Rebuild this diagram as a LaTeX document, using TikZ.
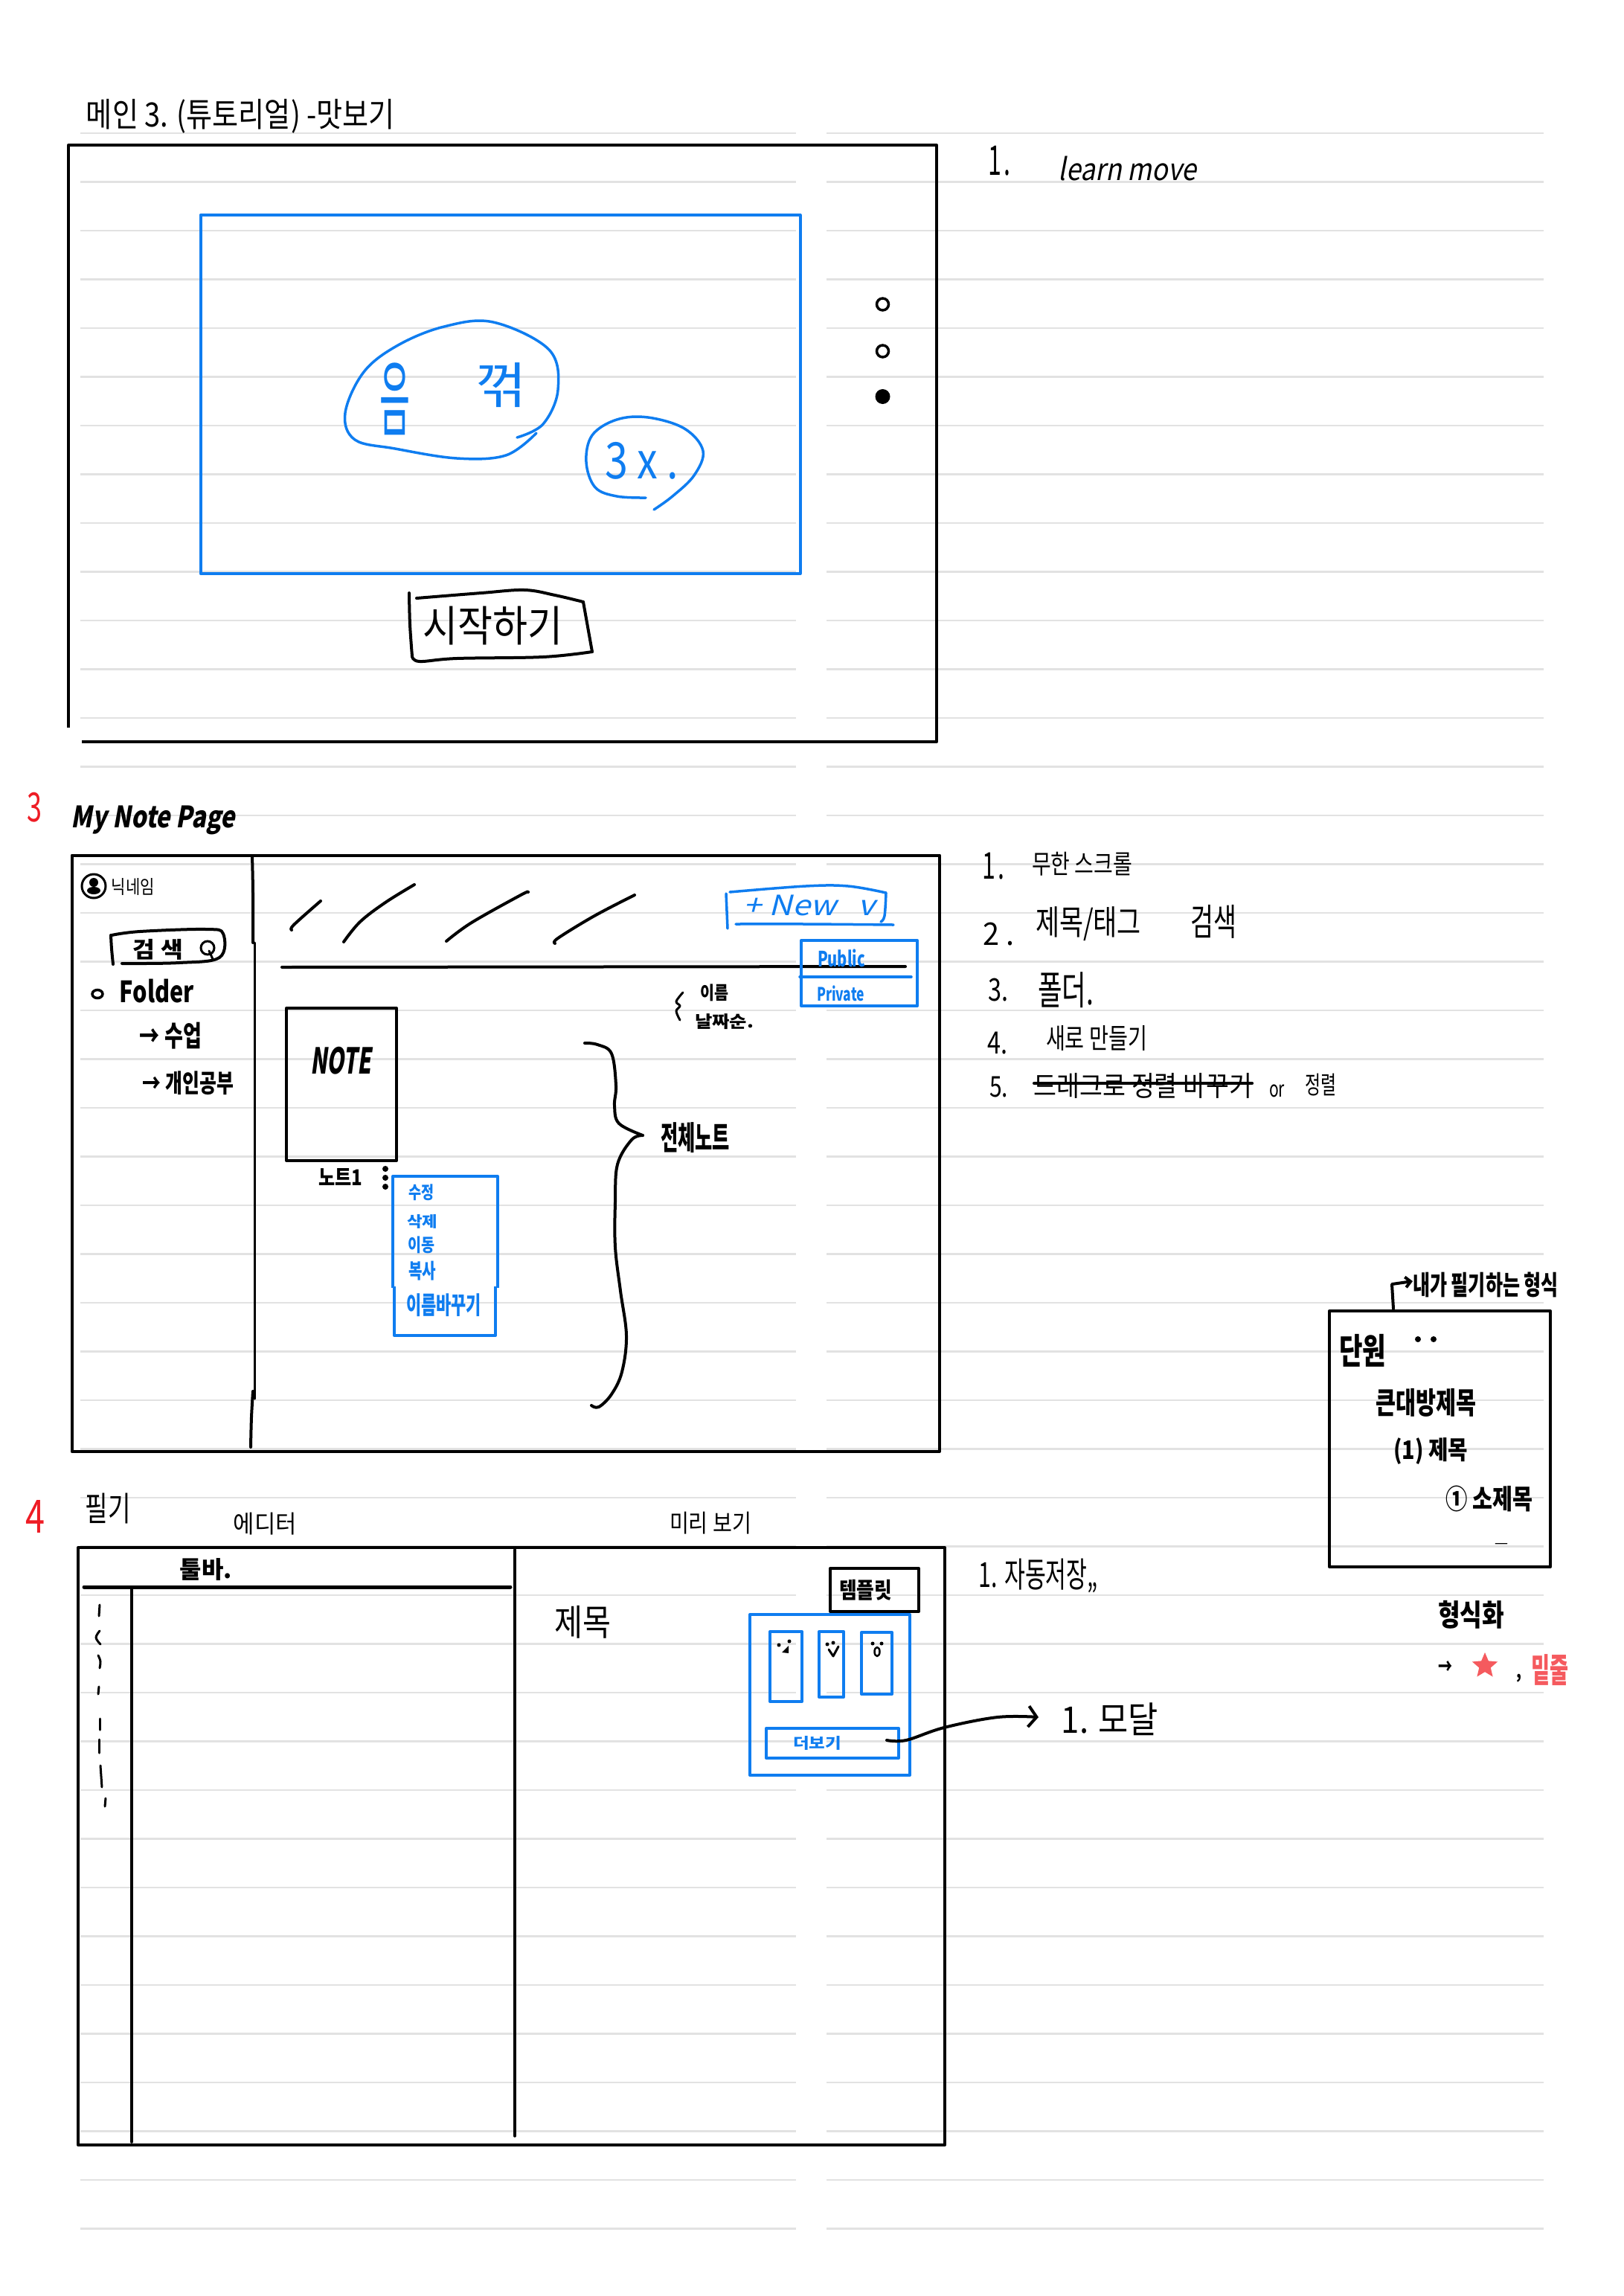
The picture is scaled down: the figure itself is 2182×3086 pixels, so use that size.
\documentclass[tikz,border=0pt]{standalone}
\usepackage{graphicx}
\usepackage{fontspec}
\setmainfont{Noto Sans CJK KR}
\newfontfamily\slantf[FakeSlant=0.22]{Noto Sans CJK KR}
\usetikzlibrary{arrows.meta,shapes.geometric}
\definecolor{bluepen}{HTML}{0F7DF0}
\definecolor{redpen}{HTML}{EE1C25}
\definecolor{pinkpen}{HTML}{F55A5E}
\definecolor{rulegray}{HTML}{E2E2E2}
\tikzset{
  txt/.style={inner sep=0pt,outer sep=0pt,anchor=center},
  rulel/.style={draw=rulegray,line width=2.4pt},
  frm/.style={draw=black,line width=4pt,line join=round},
  frmb/.style={draw=bluepen,line width=4pt,line join=round},
  pen/.style={draw=black,line width=4pt,line cap=round,line join=round},
  penb/.style={draw=bluepen,line width=3.5pt,line cap=round,line join=round},
  thinpen/.style={draw=black,line width=3pt,line cap=round,line join=round},
  smoothp/.style={smooth,tension=0.6}
}
% colour, name, left, right, top, bottom, text: the text is fitted to that box
\newcommand\tx[7][black]{%
  \pgfmathsetmacro\tcx{(#3+#4)/2}%
  \pgfmathsetmacro\tcy{(#5+#6)/2}%
  \pgfmathsetmacro\tw{#4-#3}%
  \pgfmathsetmacro\th{#6-#5}%
  \node[txt,text=#1] (#2) at (\tcx,\tcy) {\resizebox*{\tw pt}{\th pt}{#7}};%
}
\begin{document}
\begin{tikzpicture}[x=1pt,y=-1pt]
\useasboundingbox[fill=white] (0,0) rectangle (2182,3086);
% ruled paper
\foreach \k in {0,...,43}{
  \pgfmathsetmacro\yy{179+65.5*\k}
  \draw[rulel] (108,\yy) -- (1070,\yy);
  \draw[rulel] (1111,\yy) -- (2075,\yy);
}
%%% Section 1
\tx{title}{116}{531}{133}{179}{메인 3. (튜토리얼) -맛보기}
\draw[frm] (92,978) -- (92,195) -- (1259,195) -- (1259,997) -- (110,997);
\node[frmb,draw,minimum width=806pt,minimum height=482pt,inner sep=0pt,outer sep=0pt] (hero) at (672.5,530) {};
\draw[penb] plot[smoothp] coordinates {(695,588)(730,570)(750,524)(738,470)(663,433)(597,439)(535,464)(489,500)(464,555)(477,591)(531,603)(614,616)(680,612)(721,582)};
\tx[bluepen]{um}{510}{551}{488}{585}{음}
\tx[bluepen]{kk}{640}{709}{488}{548}{꺾}
\draw[penb] plot[smoothp] coordinates {(868,669)(829,667)(800,655)(788,621)(796,585)(829,564)(871,561)(920,576)(945,606)(933,639)(904,667)(879,685)};
\tx[bluepen]{tx3}{813}{912}{594}{644}{3 x .}
\node[circle,draw=black,line width=3.5pt,minimum size=16pt,inner sep=0pt] (d1) at (1186.5,409) {};
\node[circle,draw=black,line width=3.5pt,minimum size=16pt,inner sep=0pt] (d2) at (1186.5,472) {};
\node[circle,fill=black,minimum size=20pt,inner sep=0pt] (d3) at (1186.5,533) {};
\draw[pen] plot[smoothp] coordinates {(550,797)(551,839)(554,882)};
\draw[pen] plot[smoothp] coordinates {(554,882)(564,889)(614,885)(730,883)(796,876)};
\draw[pen] plot[smoothp] coordinates {(796,876)(784,809)};
\draw[pen] plot[smoothp] coordinates {(784,809)(746,800)(705,793)(647,797)(560,804)};
\tx{start}{568}{756}{815}{867}{시작하기}
\tx{r1n}{1328}{1358}{196}{236}{1\hspace{.1em}.}
\tx{r1t}{1423}{1608}{210}{243}{\slantf learn move}
%%% Section 2
\tx[redpen]{sec3}{37}{57}{1065}{1105}{3}
\tx{mynote}{96}{316}{1083}{1122}{\slantf\bfseries My Note Page}
\node[frm,draw,minimum width=1166.5pt,minimum height=801.5pt,inner sep=0pt,outer sep=0pt] (page) at (679.75,1550.25) {};
\draw[pen] plot[smoothp] coordinates {(339,1150)(340,1200)(340,1267)};
\draw[thinpen] (342,1267) -- (342,1880);
\draw[pen] plot[smoothp] coordinates {(340,1870)(338,1905)(337,1945)};
\node[circle,draw=black,line width=3pt,minimum size=32pt,inner sep=0pt] (avatar) at (126,1191) {};
\fill (126,1186) circle (6pt);
\fill (126,1197) ellipse (9pt and 5pt);
\tx{nick}{150}{208}{1180}{1203}{닉네임}
\draw[pen] plot[smoothp] coordinates {(149,1257)(150,1275)(152,1296)};
\draw[pen] plot[smoothp] coordinates {(150,1257)(188,1252)(277,1249)(300,1255)(295,1287)(241,1294)(164,1295)};
\tx{search}{179}{246}{1262}{1290}{\bfseries 검 색}
\node[circle,draw=black,line width=3pt,minimum size=18pt,inner sep=0pt] (lens) at (279,1274) {};
\draw[thinpen] (281,1278) -- (286,1289);
\node[ellipse,draw=black,line width=3.5pt,minimum width=14pt,minimum height=11pt,inner sep=0pt] (bul) at (131,1336) {};
\tx{folder}{161}{261}{1316}{1348}{\bfseries Folder}
\tx{f1}{188}{271}{1374}{1410}{\bfseries → 수업}
\tx{f2}{192}{314}{1440}{1472}{\bfseries → 개인공부}
\draw[pen] plot[smoothp] coordinates {(392,1250)(395,1243)(431,1211)};
\draw[pen] plot[smoothp] coordinates {(462,1266)(484,1239)(518,1213)(557,1189)};
\draw[pen] plot[smoothp] coordinates {(600,1265)(634,1240)(700,1203)(710,1199)};
\draw[pen] plot[smoothp] coordinates {(746,1268)(750,1261)(799,1231)(853,1203)};
\coordinate (hl) at (379,1300);
\coordinate (hr) at (1217,1299);
\draw[pen] (hl) -- (hr);
\node[frm,draw,minimum width=148pt,minimum height=205pt,inner sep=0pt,outer sep=0pt] (note) at (459,1457.5) {};
\tx{notet}{417}{499}{1407}{1444}{\slantf\bfseries NOTE}
\tx{note1}{428}{487}{1570}{1593}{\bfseries 노트1}
\fill (518,1571) circle (4pt) (518,1583) circle (4pt) (518,1595) circle (4pt);
\draw[frmb] (528,1731) -- (528,1581) -- (669,1581) -- (669,1731);
\draw[frmb] (530,1729) -- (530,1795) -- (666,1795) -- (666,1729);
\tx[bluepen]{m1}{549}{583}{1592}{1614}{\bfseries 수정}
\tx[bluepen]{m2}{547}{588}{1632}{1651}{\bfseries 삭제}
\tx[bluepen]{m3}{548}{584}{1662}{1685}{\bfseries 이동}
\tx[bluepen]{m4}{549}{586}{1695}{1721}{\bfseries 복사}
\tx[bluepen]{m5}{546}{647}{1739}{1770}{\bfseries 이름바꾸기}
\draw[penb] (976,1201) -- (978,1248);
\draw[penb] plot[smoothp] coordinates {(981,1199)(1083,1191)(1140,1191)(1191,1200)};
\draw[penb] plot[smoothp] coordinates {(1191,1200)(1189,1231)(1184,1239)};
\draw[penb] plot[smoothp] coordinates {(989,1242)(1083,1242)(1201,1243)};
\tx[bluepen]{new}{1000}{1176}{1203}{1231}{\slantf + New \ \ v}
\node[frmb,draw,minimum width=156pt,minimum height=88pt,inner sep=0pt,outer sep=0pt] (vis) at (1155,1308) {};
\draw[penb] (1075,1313) -- (1225,1313);
\tx[bluepen]{pub}{1099}{1163}{1276}{1300}{\bfseries Public}
\tx[bluepen]{priv}{1098}{1162}{1325}{1346}{\bfseries Private}
\draw[thinpen] plot[smoothp] coordinates {(918,1334)(909,1346)(914,1352)(909,1359)(914,1371)};
\tx{sn}{941}{979}{1323}{1346}{\bfseries 이름}
\tx{sd}{934}{1013}{1363}{1384}{\bfseries 날짜순.}
\draw[pen] plot[smoothp] coordinates {(786,1402)(803,1404)(822,1416)(828,1459)(826,1486)(832,1510)(864,1526)};
\draw[pen] plot[smoothp] coordinates {(864,1526)(849,1532)(830,1565)(827,1616)(827,1676)(834,1735)(842,1795)(836,1844)(822,1874)(805,1891)(795,1889)};
\tx{allnote}{888}{981}{1509}{1550}{\bfseries 전체노트}
%%% right list
\tx{a1}{1320}{1350}{1146}{1182}{1\hspace{.1em}.}
\tx{a1t}{1387}{1522}{1145}{1177}{무한 스크롤}
\tx{a2}{1321}{1364}{1240}{1271}{2\hspace{.25em}.}
\tx{a2t}{1392}{1534}{1219}{1265}{제목/태그}
\tx{a2u}{1600}{1662}{1216}{1261}{검색}
\tx{a3}{1328}{1355}{1315}{1346}{3.}
\tx{a3t}{1395}{1470}{1307}{1355}{폴더.}
\tx{a4}{1327}{1354}{1387}{1417}{4.}
\tx{a4t}{1406}{1542}{1378}{1412}{새로 만들기}
\tx{a5}{1330}{1355}{1447}{1475}{5.}
\tx{a5t}{1390}{1683}{1442}{1476}{드래그로 정렬 바꾸기}
\draw[pen] (a5t.west |- 0,1456) -- (a5t.east |- 0,1456);
\tx{a5o}{1706}{1727}{1458}{1475}{or}
\tx{a5u}{1754}{1796}{1443}{1473}{정렬}
%%% format box
\node[frm,draw,minimum width=297pt,minimum height=344pt,inner sep=0pt,outer sep=0pt] (fmt) at (1935.5,1934) {};
\tx{fmtl}{1899}{2095}{1710}{1744}{\bfseries 내가 필기하는 형식}
\coordinate (fa) at (1873,1759);
\draw[pen,-{Straight Barb[length=7pt,width=14pt]}] (fa) -- (1871,1726) -- (fmtl.west |- 0,1722);
\tx{f1a}{1800}{1863}{1793}{1837}{\bfseries 단원}
\fill (1906,1800) circle (4pt) (1927,1800) circle (4pt);
\tx{f2a}{1849}{1984}{1866}{1904}{\bfseries 큰대방제목}
\tx{f3a}{1873}{1973}{1933}{1969}{\bfseries (1) 제목}
\tx{f4a}{1943}{2060}{1997}{2032}{\bfseries ① 소제목}
\tx{f5a}{2008}{2028}{2074}{2078}{\bfseries –}
\tx{f6a}{1933}{2022}{2151}{2189}{\bfseries 형식화}
\tx{f7a}{1933}{1952}{2232}{2250}{\bfseries →}
\node[star,star points=5,star point ratio=2.2,fill=pinkpen,minimum size=36pt,inner sep=0pt] (star) at (1996,2239) {};
\tx{f8a}{2038}{2045}{2250}{2261}{\bfseries ,}
\tx[pinkpen]{f9a}{2058}{2108}{2224}{2266}{\bfseries 밑줄}
%%% Section 3
\tx[redpen]{sec4}{35}{61}{2016}{2060}{4}
\tx{write}{115}{176}{2007}{2048}{필기}
\tx{editor}{314}{399}{2033}{2063}{에디터}
\tx{preview}{900}{1010}{2032}{2062}{미리 보기}
\node[frm,draw,minimum width=1165pt,minimum height=803pt,inner sep=0pt,outer sep=0pt] (edit) at (687.5,2481.5) {};
\coordinate (d1t) at (692,2083);
\coordinate (d1b) at (692,2871);
\draw[thinpen,line width=3.5pt] (d1t) -- (d1b);
\coordinate (tl) at (113,2133);
\coordinate (tr) at (686,2133);
\draw[pen,line width=5pt] (tl) -- (tr);
\coordinate (vt) at (177,2135);
\coordinate (vb) at (177,2879);
\draw[thinpen,line width=3.5pt] (vt) -- (vb);
\tx{tool}{242}{312}{2095}{2125}{\bfseries 툴바.}
\draw[thinpen] (134,2157) -- (133,2172);
\draw[thinpen] plot[smoothp] coordinates {(134,2192)(129,2201)(135,2210)};
\draw[thinpen] plot[smoothp] coordinates {(132,2225)(135,2233)(134,2242)};
\draw[thinpen] (133,2267) -- (132,2277);
\draw[thinpen] (134,2310) -- (134,2325);
\draw[thinpen] (133,2338) -- (133,2356);
\draw[thinpen] (135,2373) -- (137,2402);
\draw[thinpen] (142,2417) -- (141,2428);
\tx{subj}{745}{821}{2158}{2202}{제목}
\node[frm,draw,minimum width=119pt,minimum height=58pt,inner sep=0pt,outer sep=0pt] (tpl) at (1175.5,2137) {};
\tx{tplt}{1128}{1199}{2123}{2151}{\bfseries 템플릿}
\node[frmb,draw,minimum width=215pt,minimum height=216pt,inner sep=0pt,outer sep=0pt] (modal) at (1115.5,2278) {};
\node[frmb,draw,minimum width=43pt,minimum height=94pt,inner sep=0pt,outer sep=0pt] (c1) at (1056.5,2240) {};
\node[frmb,draw,minimum width=33pt,minimum height=88pt,inner sep=0pt,outer sep=0pt] (c2) at (1117.5,2237) {};
\node[frmb,draw,minimum width=41pt,minimum height=83pt,inner sep=0pt,outer sep=0pt] (c3) at (1178.5,2235.5) {};
\fill (1047,2211) circle (2.5pt) (1061,2206) circle (2.5pt);
\fill (1051,2221) -- (1060,2212) -- (1060,2222) -- cycle;
\fill (1112,2210) circle (2.5pt) (1120,2208) circle (2.5pt);
\draw[thinpen] (1114,2217) -- (1120,2226) -- (1127,2213);
\fill (1173,2209) circle (2.5pt) (1185,2209) circle (2.5pt);
\draw[thinpen,line width=2.5pt] (1179,2220) ellipse (3.5pt and 6pt);
\node[frmb,draw,minimum width=178pt,minimum height=40pt,inner sep=0pt,outer sep=0pt] (more) at (1119,2343) {};
\tx[bluepen]{moret}{1066}{1131}{2333}{2352}{\bfseries 더보기}
\tx{autos}{1316}{1476}{2095}{2141}{1. 자동저장,,}
\tx{modalt}{1427}{1557}{2289}{2333}{1. 모달}
\coordinate (ms) at (1192,2339);
\draw[pen,-{Straight Barb[length=11pt,width=28pt]}] plot[smoothp] coordinates {(ms)(1218,2339)(1269,2322)(1341,2308)(1396,2308)};
\end{tikzpicture}
\end{document}
